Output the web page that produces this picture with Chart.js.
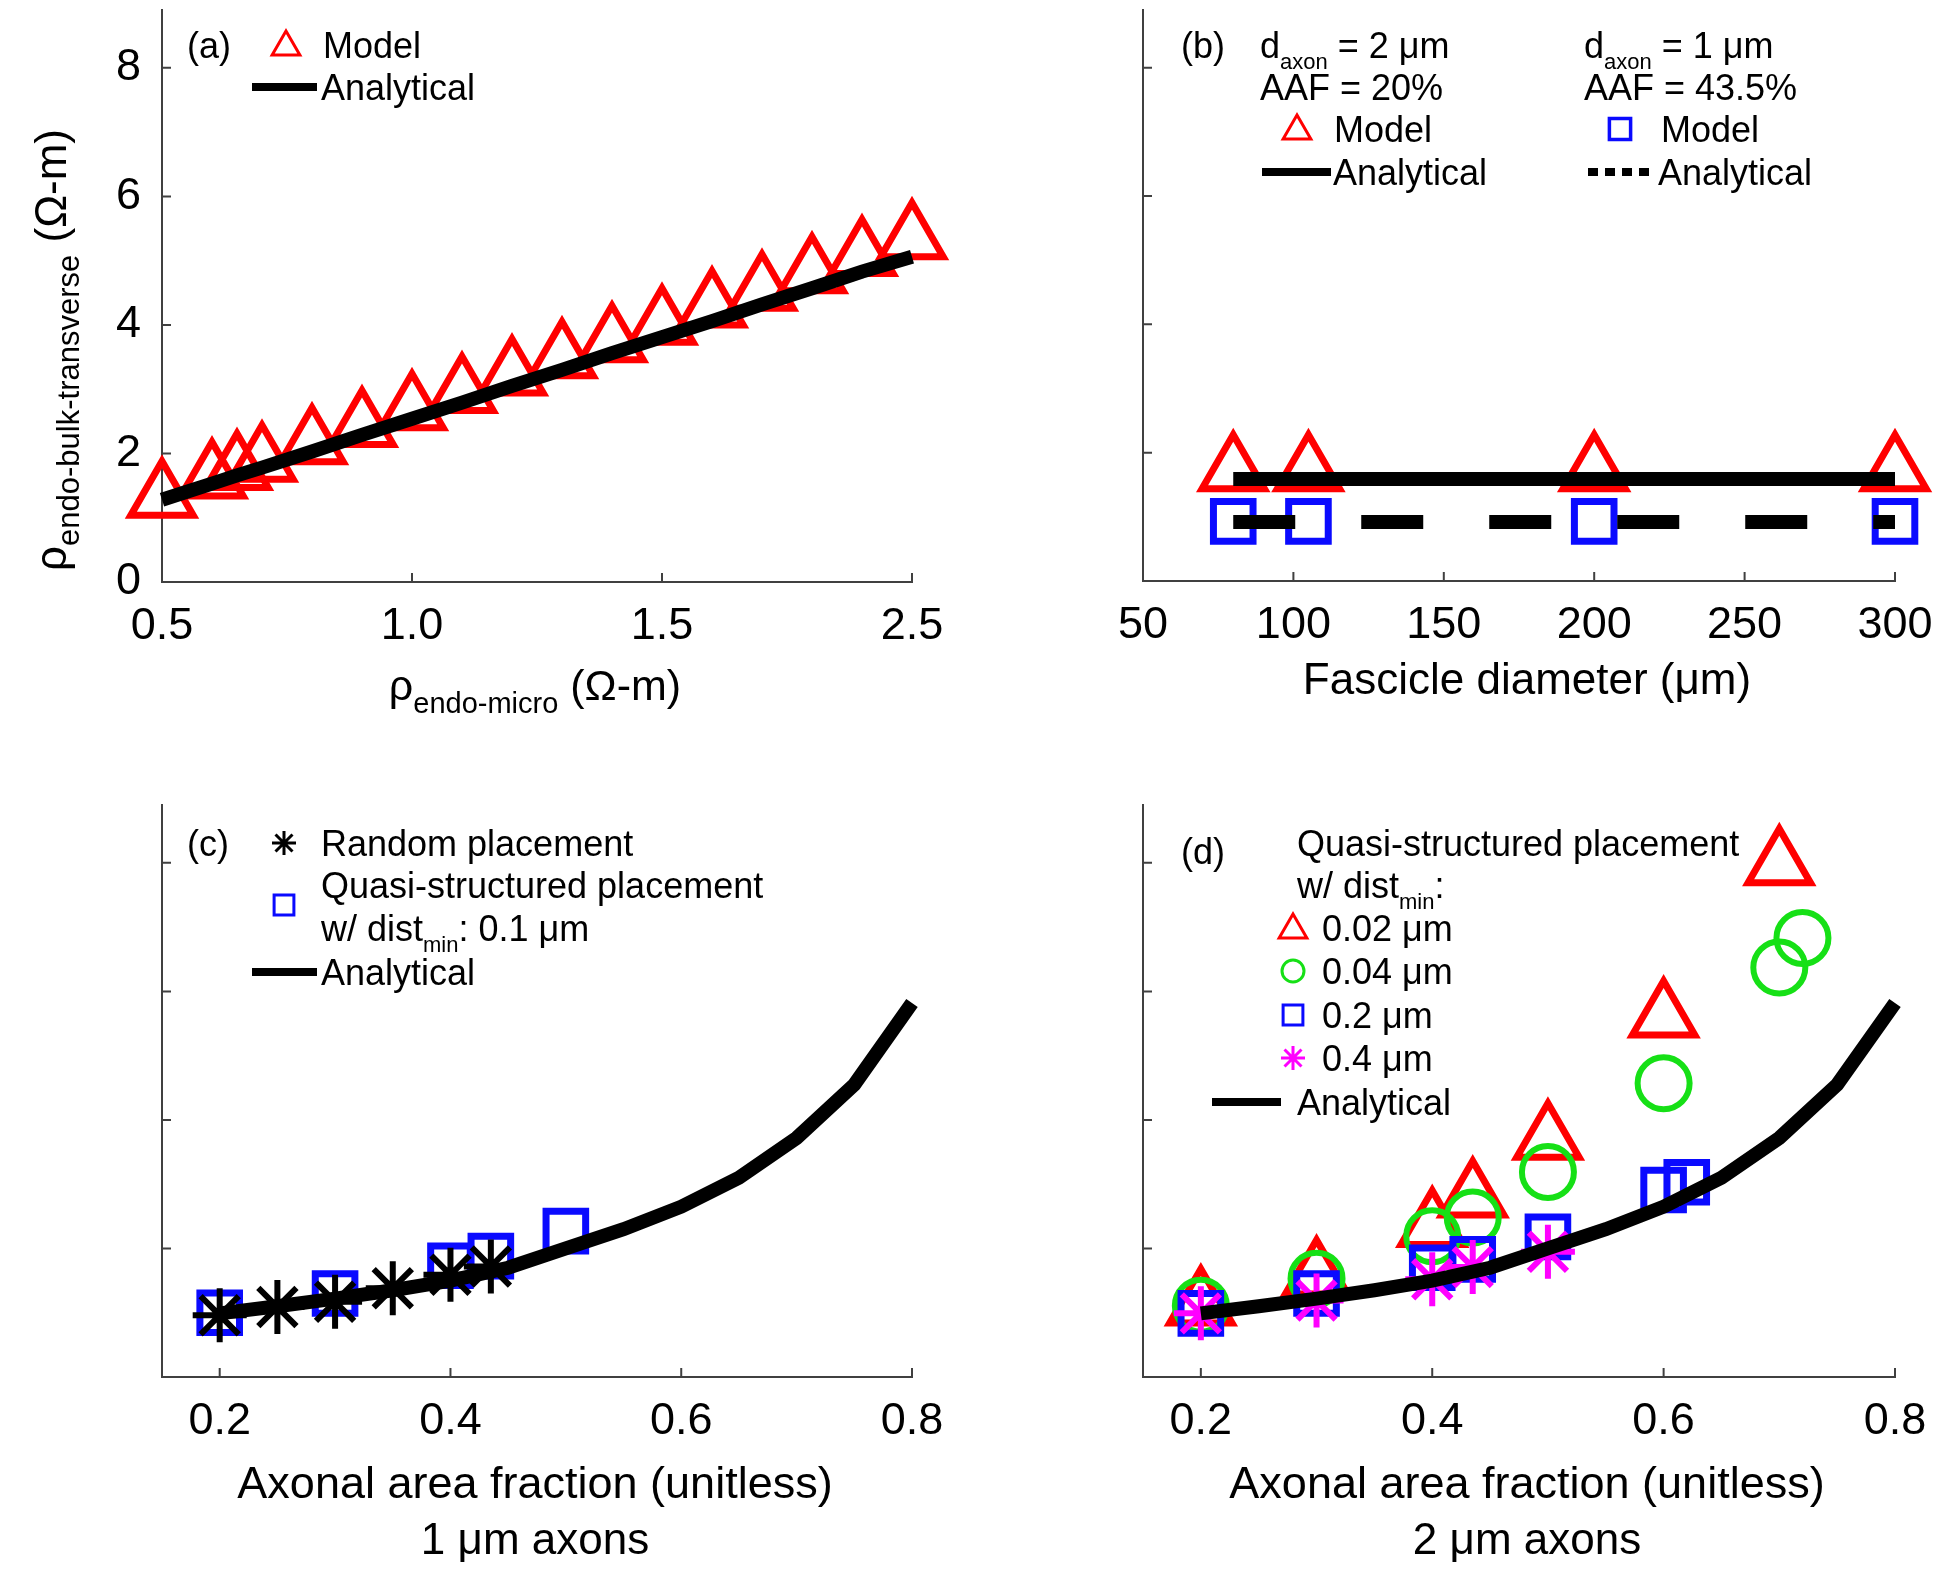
<!DOCTYPE html>
<html>
<head>
<meta charset="utf-8">
<title>Endoneurial bulk resistivity</title>
<script src="https://cdn.jsdelivr.net/npm/chart.js@4.4.0/dist/chart.umd.min.js"></script>
<style>
  body { margin: 0; background: #fff; }
  #wrap { position: relative; width: 1950px; height: 1576px; }
  .panel { position: absolute; width: 975px; height: 788px; }
</style>
</head>
<body>
<div id="wrap">
  <div class="panel" style="left:0;top:0"><canvas id="chartA" width="975" height="788"></canvas></div>
  <div class="panel" style="left:975px;top:0"><canvas id="chartB" width="975" height="788"></canvas></div>
  <div class="panel" style="left:0;top:788px"><canvas id="chartC" width="975" height="788"></canvas></div>
  <div class="panel" style="left:975px;top:788px"><canvas id="chartD" width="975" height="788"></canvas></div>
</div>
<script>
// ---- data ----
// (a) bulk vs micro resistivity
const rhoMicro = [0.5, 0.6, 0.65, 0.7, 0.8, 0.9, 1.0, 1.1, 1.2, 1.3, 1.4, 1.5, 1.6, 1.7, 1.8, 1.9, 2.0];
const rhoBulkModel = [1.32, 1.62, 1.75, 1.88, 2.15, 2.42, 2.68, 2.95, 3.22, 3.49, 3.74, 4.01, 4.28, 4.54, 4.81, 5.08, 5.34];
const rhoBulkAnalytical = [1.28, 1.53, 1.66, 1.78, 2.03, 2.29, 2.54, 2.79, 3.05, 3.30, 3.56, 3.81, 4.06, 4.32, 4.57, 4.83, 5.06];
const aTickValues = [0.5, 1.0, 1.5, 2.0];
const aTickLabels = ['0.5', '1.0', '1.5', '2.5'];
const yTickValues = [0, 2, 4, 6, 8];
const yTickLabels = ['0', '2', '4', '6', '8'];

// (b) fascicle diameter
const fascicleDiam = [80, 105, 200, 300];
const model2um = [1.72, 1.72, 1.72, 1.72];
const model1um = [0.93, 0.93, 0.93, 0.93];
const lineDiam = [80, 300];
const analytical2um = [1.59, 1.59];
const analytical1um = [0.92, 0.92];
const bTickValues = [50, 100, 150, 200, 250, 300];

// (c) 1 um axons
const aafRandom = [0.2, 0.25, 0.3, 0.35, 0.4, 0.435];
const rhoRandom = [0.96, 1.09, 1.17, 1.38, 1.59, 1.72];
const aafQuasi = [0.2, 0.3, 0.4, 0.435, 0.5];
const rhoQuasi = [1.00, 1.30, 1.73, 1.88, 2.27];
const aafCurve = [0.2, 0.25, 0.3, 0.35, 0.4, 0.45, 0.5, 0.55, 0.6, 0.65, 0.7, 0.75, 0.8];
const rhoCurve = [0.99, 1.10, 1.22, 1.35, 1.50, 1.70, 2.00, 2.30, 2.65, 3.10, 3.72, 4.55, 5.82];
const aafTickValues = [0.2, 0.4, 0.6, 0.8];
const aafTickLabels = ['0.2', '0.4', '0.6', '0.8'];

// (d) 2 um axons, by dist_min
const aaf002 = [0.2, 0.3, 0.4, 0.435, 0.5, 0.6, 0.7];
const rho002 = [1.12, 1.57, 2.34, 2.80, 3.70, 5.60, 7.97];
const aaf004 = [0.2, 0.3, 0.4, 0.435, 0.5, 0.6, 0.7, 0.72];
const rho004 = [1.11, 1.53, 2.19, 2.48, 3.19, 4.57, 6.37, 6.83];
const aaf02 = [0.2, 0.3, 0.4, 0.435, 0.5, 0.6, 0.62];
const rho02 = [0.99, 1.30, 1.70, 1.83, 2.18, 2.91, 3.03];
const aaf04 = [0.2, 0.3, 0.4, 0.435, 0.5];
const rho04 = [0.99, 1.19, 1.52, 1.71, 1.95];

// ---- styling ----
const FONT = '"Liberation Sans", Arial, Helvetica, sans-serif';
const AXIS = '#404040';
const RED = '#ff0000', BLUE = '#0a0aff', GREEN = '#16e016', MAGENTA = '#ff00ff';

function pts(xs, ys) { return xs.map((x, i) => ({ x: x, y: ys[i] })); }

function markers(xs, ys, style, color, r, w, order) {
  return {
    data: pts(xs, ys), showLine: false, pointStyle: style,
    pointRadius: r, pointHoverRadius: r, pointBorderWidth: w, pointHoverBorderWidth: w,
    pointBorderColor: color, pointBackgroundColor: 'rgba(0,0,0,0)',
    borderColor: color, backgroundColor: 'rgba(0,0,0,0)', clip: false, order: order
  };
}

function curve(xs, ys, dash) {
  return {
    data: pts(xs, ys), showLine: true, pointRadius: 0, borderColor: '#000',
    borderWidth: 14, borderDash: dash || [], borderCapStyle: 'butt', tension: 0,
    clip: false, order: 0
  };
}

// MATLAB-style ticks pointing into the plot
const inTicks = {
  id: 'inTicks',
  beforeDatasetsDraw(chart) {
    const ctx = chart.ctx, a = chart.chartArea;
    const xs = chart.scales.x, ys = chart.scales.y;
    ctx.save();
    ctx.strokeStyle = AXIS; ctx.lineWidth = 2;
    ctx.beginPath();
    xs.ticks.forEach(t => { const p = xs.getPixelForValue(t.value); ctx.moveTo(p, a.bottom); ctx.lineTo(p, a.bottom - 9); });
    ys.ticks.forEach(t => { if (t.value === 0) return; const p = ys.getPixelForValue(t.value); ctx.moveTo(a.left, p); ctx.lineTo(a.left + 9, p); });
    ctx.stroke();
    ctx.restore();
  }
};

// text with subscripts: parts = [[string, isSub], ...], y = middle of main text
function rich(ctx, parts, x, y, size, opt) {
  opt = opt || {};
  const sub = opt.sub || Math.round(size * 0.62);
  ctx.save();
  ctx.translate(x, y);
  if (opt.rot) ctx.rotate(opt.rot);
  ctx.fillStyle = '#000';
  ctx.textBaseline = 'alphabetic';
  let total = 0;
  const ws = parts.map(p => { ctx.font = (p[1] ? sub : size) + 'px ' + FONT; const w = ctx.measureText(p[0]).width; total += w; return w; });
  let cx = opt.center ? -total / 2 : 0;
  const base = size * 0.36;
  parts.forEach((p, i) => {
    ctx.font = (p[1] ? sub : size) + 'px ' + FONT;
    ctx.fillText(p[0], cx, base + (p[1] ? size * 0.3 : 0));
    cx += ws[i];
  });
  ctx.restore();
}

function mark(ctx, style, color, r, w, x, y) {
  ctx.save();
  ctx.strokeStyle = color; ctx.fillStyle = 'rgba(0,0,0,0)'; ctx.lineWidth = w;
  Chart.helpers.drawPoint(ctx, { pointStyle: style, radius: r, borderWidth: w, rotation: 0 }, x, y);
  ctx.restore();
}

function sample(ctx, x1, x2, y, dash) {
  ctx.save();
  ctx.strokeStyle = '#000'; ctx.lineWidth = 8; ctx.lineCap = 'butt';
  ctx.setLineDash(dash || []);
  ctx.beginPath(); ctx.moveTo(x1, y); ctx.lineTo(x2, y); ctx.stroke();
  ctx.restore();
}

function decor(ox, oy, draw) {
  return {
    id: 'decor',
    afterDraw(chart) {
      const ctx = chart.ctx;
      ctx.save(); ctx.translate(-ox, -oy);
      draw(ctx);
      ctx.restore();
    }
  };
}

// area: chart area inside the 975x788 panel
function build(id, area, x, showY, datasets, deco) {
  const H = 60;
  return new Chart(document.getElementById(id), {
    type: 'scatter',
    data: { datasets: datasets },
    options: {
      responsive: false, animation: false, events: [],
      layout: { autoPadding: false, padding: { left: 0, top: area.top, right: 975 - area.right, bottom: 788 - area.bottom - H } },
      plugins: { legend: { display: false }, tooltip: { enabled: false } },
      scales: {
        x: {
          type: 'linear', min: x.min, max: x.max,
          afterFit: s => { s.height = H; s.paddingLeft = 0; s.paddingRight = 0; },
          afterBuildTicks: s => { s.ticks = x.values.map(v => ({ value: v })); },
          grid: { display: false },
          border: { display: true, color: AXIS, width: 2 },
          ticks: { callback: (v, i) => x.labels[i], color: '#000', font: { family: FONT, size: 45 }, padding: 10, maxRotation: 0, autoSkip: false }
        },
        y: {
          type: 'linear', min: 0, max: 8.9,
          afterFit: s => { s.width = area.left; s.paddingTop = 0; s.paddingBottom = 0; },
          afterBuildTicks: s => { s.ticks = yTickValues.map(v => ({ value: v })); },
          grid: { display: false },
          border: { display: true, color: AXIS, width: 2 },
          ticks: { display: showY, callback: (v, i) => yTickLabels[i], color: '#000', font: { family: FONT, size: 45 }, padding: 13 }
        }
      }
    },
    plugins: [inTicks, deco]
  });
}

// ---- (a) ----
build('chartA', { left: 162, right: 912, top: 10, bottom: 582 },
  { min: 0.5, max: 2.0, values: aTickValues, labels: aTickLabels }, true,
  [markers(rhoMicro, rhoBulkModel, 'triangle', RED, 36, 7, 1),
   curve(rhoMicro, rhoBulkAnalytical)],
  decor(0, 0, ctx => {
    rich(ctx, [['(a)', 0]], 187, 45, 36);
    mark(ctx, 'triangle', RED, 16, 3, 286, 47);
    rich(ctx, [['Model', 0]], 323, 45, 36);
    sample(ctx, 252, 317, 87);
    rich(ctx, [['Analytical', 0]], 321, 87, 36);
    rich(ctx, [['ρ', 0], ['endo-micro', 1], [' (Ω-m)', 0]], 535, 685, 43, { center: true, sub: 29 });
    rich(ctx, [['ρ', 0], ['endo-bulk-transverse', 1], [' (Ω-m)', 0]], 50, 350, 44, { center: true, sub: 31, rot: -Math.PI / 2 });
  }));

// ---- (b) ----
build('chartB', { left: 168, right: 920, top: 10, bottom: 581 },
  { min: 50, max: 300, values: bTickValues, labels: bTickValues.map(String) }, false,
  [markers(fascicleDiam, model2um, 'triangle', RED, 36, 7, 2),
   markers(fascicleDiam, model1um, 'rect', BLUE, 28, 7, 1),
   curve(lineDiam, analytical2um),
   curve(lineDiam, analytical1um, [62, 66])],
  decor(975, 0, ctx => {
    rich(ctx, [['(b)', 0]], 1181, 45, 36);
    rich(ctx, [['d', 0], ['axon', 1], [' = 2 μm', 0]], 1260, 45, 36);
    rich(ctx, [['AAF = 20%', 0]], 1260, 87, 36);
    mark(ctx, 'triangle', RED, 16, 3, 1297, 131);
    rich(ctx, [['Model', 0]], 1334, 129, 36);
    sample(ctx, 1262, 1331, 172);
    rich(ctx, [['Analytical', 0]], 1333, 172, 36);
    rich(ctx, [['d', 0], ['axon', 1], [' = 1 μm', 0]], 1584, 45, 36);
    rich(ctx, [['AAF = 43.5%', 0]], 1584, 87, 36);
    mark(ctx, 'rect', BLUE, 15, 3.5, 1620, 129);
    rich(ctx, [['Model', 0]], 1661, 129, 36);
    sample(ctx, 1588, 1656, 172, [10, 7]);
    rich(ctx, [['Analytical', 0]], 1658, 172, 36);
    rich(ctx, [['Fascicle diameter (μm)', 0]], 1527, 678, 44, { center: true });
  }));

// ---- (c) ----
build('chartC', { left: 162, right: 912, top: 17, bottom: 589 },
  { min: 0.15, max: 0.8, values: aafTickValues, labels: aafTickLabels }, false,
  [markers(aafQuasi, rhoQuasi, 'rect', BLUE, 28, 7, 2),
   markers(aafRandom, rhoRandom, 'star', '#000', 27, 6, 1),
   curve(aafCurve, rhoCurve)],
  decor(0, 788, ctx => {
    rich(ctx, [['(c)', 0]], 187, 843, 36);
    mark(ctx, 'star', '#000', 12, 3, 284, 843);
    rich(ctx, [['Random placement', 0]], 321, 843, 36);
    mark(ctx, 'rect', BLUE, 14, 3, 284, 905);
    rich(ctx, [['Quasi-structured placement', 0]], 321, 885, 36);
    rich(ctx, [['w/ dist', 0], ['min', 1], [': 0.1 μm', 0]], 321, 928, 36);
    sample(ctx, 252, 317, 972);
    rich(ctx, [['Analytical', 0]], 321, 972, 36);
    rich(ctx, [['Axonal area fraction (unitless)', 0]], 535, 1482, 45, { center: true });
    rich(ctx, [['1 μm axons', 0]], 535, 1538, 44, { center: true });
  }));

// ---- (d) ----
build('chartD', { left: 168, right: 920, top: 17, bottom: 589 },
  { min: 0.15, max: 0.8, values: aafTickValues, labels: aafTickLabels }, false,
  [markers(aaf002, rho002, 'triangle', RED, 36, 7, 4),
   markers(aaf004, rho004, 'circle', GREEN, 26, 6, 3),
   markers(aaf02, rho02, 'rect', BLUE, 28, 7, 2),
   markers(aaf04, rho04, 'star', MAGENTA, 27, 6, 1),
   curve(aafCurve, rhoCurve)],
  decor(975, 788, ctx => {
    rich(ctx, [['(d)', 0]], 1181, 851, 36);
    rich(ctx, [['Quasi-structured placement', 0]], 1297, 843, 36);
    rich(ctx, [['w/ dist', 0], ['min', 1], [':', 0]], 1297, 885, 36);
    mark(ctx, 'triangle', RED, 16, 3, 1293, 930);
    rich(ctx, [['0.02 μm', 0]], 1322, 928, 36);
    mark(ctx, 'circle', GREEN, 11, 3, 1293, 971);
    rich(ctx, [['0.04 μm', 0]], 1322, 971, 36);
    mark(ctx, 'rect', BLUE, 14, 3, 1293, 1015);
    rich(ctx, [['0.2 μm', 0]], 1322, 1015, 36);
    mark(ctx, 'star', MAGENTA, 12, 3, 1293, 1058);
    rich(ctx, [['0.4 μm', 0]], 1322, 1058, 36);
    sample(ctx, 1212, 1281, 1102);
    rich(ctx, [['Analytical', 0]], 1297, 1102, 36);
    rich(ctx, [['Axonal area fraction (unitless)', 0]], 1527, 1482, 45, { center: true });
    rich(ctx, [['2 μm axons', 0]], 1527, 1538, 44, { center: true });
  }));
</script>
</body>
</html>
